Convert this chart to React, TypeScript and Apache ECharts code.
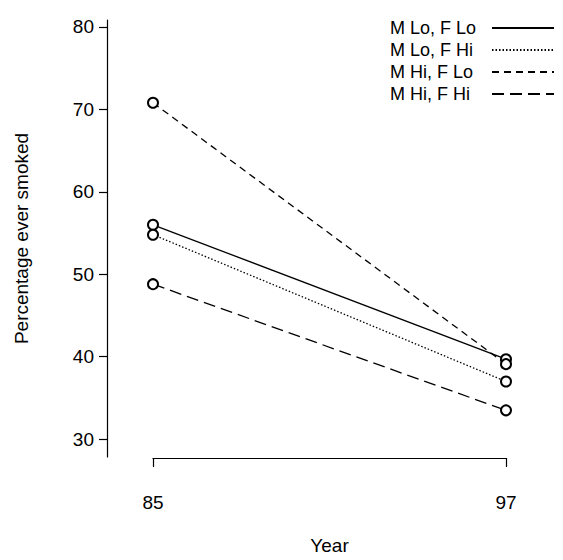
import React, { useEffect, useRef } from "react";
import * as echarts from "echarts";

const years = ["85", "97"];
const seriesNames = ["M Lo, F Lo", "M Lo, F Hi", "M Hi, F Lo", "M Hi, F Hi"];
const mLoFLo = [56.0, 39.7];
const mLoFHi = [54.8, 37.0];
const mHiFLo = [70.8, 39.1];
const mHiFHi = [48.8, 33.5];
const yTicks = [30, 40, 50, 60, 70, 80];

const FONT = "'Liberation Sans', Arial, Helvetica, sans-serif";

export default function App() {
  const ref = useRef<HTMLDivElement>(null);
  useEffect(() => {
    if (!ref.current) return;
    const chart = echarts.init(ref.current, null, { renderer: "svg" });
    const values = [mLoFLo, mLoFHi, mHiFLo, mHiFHi];
    const dashes: any[] = ["solid", [1.5, 2], [7, 5], [12, 6]];
    chart.setOption({
      animation: false,
      backgroundColor: "#fff",
      textStyle: { fontFamily: FONT, color: "#000" },
      grid: { left: 153, right: 57, top: 20, bottom: 98 },
      legend: {
        orient: "vertical",
        right: 8,
        top: 19,
        align: "right",
        padding: 0,
        itemWidth: 62,
        itemHeight: 14,
        itemGap: 4,
        selectedMode: false,
        data: seriesNames,
        formatter: "{a|{name}}",
        itemStyle: { opacity: 0 },
        textStyle: {
          fontFamily: FONT,
          fontSize: 18,
          color: "#000",
          rich: { a: { width: 97, align: "left", fontSize: 18, fontFamily: FONT, color: "#000" } },
        },
      },
      xAxis: {
        type: "category",
        data: years,
        boundaryGap: false,
        offset: 1,
        axisLine: { show: true, lineStyle: { color: "#000", width: 1.2 } },
        axisTick: { show: true, length: 9, lineStyle: { color: "#000", width: 1.2 } },
        axisLabel: { margin: 35, fontSize: 19, fontFamily: FONT, color: "#000" },
        splitLine: { show: false },
        name: "Year",
        nameLocation: "middle",
        nameGap: 78,
        nameTextStyle: { fontSize: 19, fontFamily: FONT, color: "#000" },
      },
      yAxis: {
        type: "value",
        min: 27.84,
        max: 80.84,
        offset: 46,
        axisLine: { show: true, lineStyle: { color: "#000", width: 1.2 } },
        axisTick: { show: true, length: 8, customValues: yTicks, lineStyle: { color: "#000", width: 1.2 } },
        axisLabel: { margin: 13, customValues: yTicks, fontSize: 19, fontFamily: FONT, color: "#000" },
        splitLine: { show: false },
        name: "Percentage ever smoked",
        nameLocation: "middle",
        nameGap: 76,
        nameTextStyle: { fontSize: 19, fontFamily: FONT, color: "#000" },
      },
      series: seriesNames.map((name, i) => ({
        name,
        type: "line",
        data: values[i],
        clip: false,
        symbol: "emptyCircle",
        symbolSize: 10,
        itemStyle: { color: "#000", borderWidth: 1.2 },
        lineStyle: { color: "#000", width: 1.3, type: dashes[i] },
      })),
    });
    return () => chart.dispose();
  }, []);
  return (
    <div
      ref={ref}
      style={{ position: "fixed", left: 0, top: 0, width: 563, height: 560, background: "#fff" }}
    />
  );
}
